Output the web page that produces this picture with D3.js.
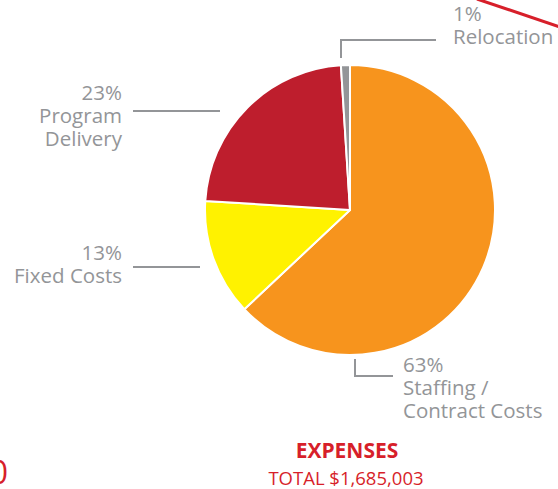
<!DOCTYPE html>
<html>
<head>
<meta charset="utf-8">
<script src="https://cdn.jsdelivr.net/npm/d3@7"></script>
<style>
  html, body { margin: 0; padding: 0; background: #fff; }
  svg { display: block; }
  text { font-family: "Open Sans", "Noto Sans", sans-serif; }
</style>
</head>
<body>
<div id="chart"></div>
<script>
(function () {
  // Data

  const categories = ["Staffing / Contract Costs", "Fixed Costs", "Program Delivery", "Relocation"];
  const percents = [63, 13, 23, 1];
  const labelLines = [["63%", "Staffing /", "Contract Costs"], ["13%", "Fixed Costs"], ["23%", "Program", "Delivery"], ["1%", "Relocation"]];
  const colors = ["#f7941d", "#fff200", "#be1e2d", "#939598"];
  const title = "EXPENSES";
  const subtitle = "TOTAL $1,685,003";

  // Config

  const width = 558;
  const height = 489;
  const cx = 350, cy = 210, radius = 145;
  const grey = "#939598";
  const red = "#d71f2a";
  const labelSize = 20.5;

  // label layout: leader line points, text anchor and first baseline
  const layout = [
    { line: [[355, 359], [355, 376], [393, 376]], x: 403, y: 372, anchor: "start" },
    { line: [[200, 267], [133, 267]], x: 122, y: 260, anchor: "end" },
    { line: [[220, 111], [133, 111]], x: 122, y: 100, anchor: "end" },
    { line: [[341, 58], [341, 40], [436, 40]], x: 453, y: 21, anchor: "start" }
  ];

  const svg = d3.select("#chart")
    .append("svg")
    .attr("width", width)
    .attr("height", height)
    .attr("viewBox", [0, 0, width, height]);

  // Decorative bits from neighbouring panel

  svg.append("line")
    .attr("x1", 477).attr("y1", -1)
    .attr("x2", 560).attr("y2", 27)
    .attr("stroke", red)
    .attr("stroke-width", 3);

  svg.append("text")
    .attr("x", 8).attr("y", 484)
    .attr("text-anchor", "end")
    .attr("fill", red)
    .attr("font-size", 32)
    .text("0");

  // Pie

  const pie = d3.pie().sort(null).value(d => d);
  const arc = d3.arc().innerRadius(0).outerRadius(radius);

  const g = svg.append("g").attr("transform", `translate(${cx},${cy})`);

  g.selectAll("path.slice")
    .data(pie(percents))
    .join("path")
    .attr("class", "slice")
    .attr("d", arc)
    .attr("fill", (d, i) => colors[i])
    .attr("stroke", "#fff")
    .attr("stroke-width", 2)
    .attr("stroke-linejoin", "round");

  // Leader lines and labels

  const line = d3.line();

  categories.forEach((c, i) => {
    const l = layout[i];
    svg.append("path")
      .attr("d", line(l.line))
      .attr("fill", "none")
      .attr("stroke", grey)
      .attr("stroke-width", 2);

    const t = svg.append("text")
      .attr("x", l.x)
      .attr("y", l.y)
      .attr("text-anchor", l.anchor)
      .attr("fill", grey)
      .attr("font-size", labelSize);

    labelLines[i].forEach((s, j) => {
      t.append("tspan")
        .attr("x", l.x)
        .attr("dy", j === 0 ? 0 : 23)
        .text(s);
    });
  });

  // Title

  svg.append("text")
    .attr("x", 347).attr("y", 458)
    .attr("text-anchor", "middle")
    .attr("fill", red)
    .attr("font-size", 21)
    .attr("font-weight", "bold")
    .text(title);

  svg.append("text")
    .attr("x", 346).attr("y", 485)
    .attr("text-anchor", "middle")
    .attr("fill", red)
    .attr("font-size", 18.5)
    .text(subtitle);
})();
</script>
</body>
</html>
